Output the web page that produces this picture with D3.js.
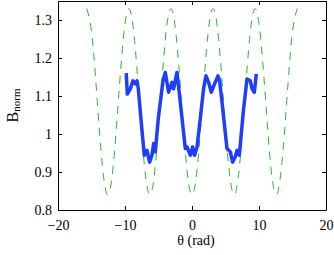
<!DOCTYPE html>
<html>
<head>
    <script src="https://d3js.org/d3.v7.min.js"></script>
    <style>
        body { margin: 0; background: #fff; }
    </style>
</head>
<body>
    <div id="container"></div>
    <script>
        // reference curve (green dashed)
        const refTheta = [-15.71, -14.92, -14.14, -13.35, -12.57, -11.78, -11.00, -10.21,
            -9.42, -8.64, -7.85, -7.07, -6.28, -5.50, -4.71, -3.93, -3.14, -2.36, -1.57, -0.79,
            0, 0.79, 1.57, 2.36, 3.14, 3.93, 4.71, 5.50, 6.28, 7.07, 7.85, 8.64, 9.42, 10.21,
            11.00, 11.78, 12.57, 13.35, 14.14, 14.92, 15.71];
        const refB = [1.33, 1.258, 1.085, 0.912, 0.84, 0.912, 1.085, 1.258,
            1.33, 1.258, 1.085, 0.912, 0.84, 0.912, 1.085, 1.258,
            1.33, 1.258, 1.085, 0.912, 0.84, 0.912, 1.085, 1.258,
            1.33, 1.258, 1.085, 0.912, 0.84, 0.912, 1.085, 1.258,
            1.33, 1.258, 1.085, 0.912, 0.84, 0.912, 1.085, 1.258, 1.33];

        // measured curve (blue)
        const measTheta = [-9.81, -9.66, -9.21, -8.81, -8.46, -8.21, -8.01, -7.57, -7.12, -6.72,
            -6.33, -5.97, -5.73, -5.48, -5.03, -4.33, -3.99, -3.49, -2.99, -2.75, -2.24, -1.75,
            -1.00, -0.75, -0.25, 0.09, 0.39, 0.75, 1.24, 1.73, 2.09, 2.48, 2.88, 3.37, 3.88,
            4.12, 4.48, 5.22, 5.72, 6.06, 6.46, 6.72, 7.06, 7.70, 8.21, 8.70, 8.96, 9.30, 9.60];
        const measB = [1.160, 1.105, 1.119, 1.140, 1.132, 1.140, 1.119, 1.030, 0.944, 0.957,
            0.926, 0.944, 0.975, 0.953, 1.041, 1.140, 1.162, 1.110, 1.136, 1.119, 1.162, 1.084,
            0.962, 0.966, 0.944, 0.966, 0.944, 0.966, 1.041, 1.119, 1.153, 1.136, 1.110, 1.132, 1.153,
            1.140, 1.084, 0.962, 0.953, 0.926, 0.940, 0.957, 0.944, 1.066, 1.145, 1.140, 1.119, 1.110, 1.158];

        const xTicks = [-20, -10, 0, 10, 20];
        const yTicks = [0.8, 0.9, 1, 1.1, 1.2, 1.3];

        const width = 334;
        const height = 255;
        const margin = { top: 1, right: 8, bottom: 45, left: 58 };
        const serif = '"Liberation Serif"';

        const svg = d3.select("#container")
            .append("svg")
            .attr("width", width)
            .attr("height", height);

        const x = d3.scaleLinear().domain([-20, 20]).range([margin.left, width - margin.right]);
        const y = d3.scaleLinear().domain([0.8, 1.35]).range([height - margin.bottom, margin.top]);

        const fmt = d => String(+d.toFixed(2)).replace("-", "\u2212");

        svg.append("g")
            .attr("transform", `translate(0,${height - margin.bottom})`)
            .call(d3.axisBottom(x).tickValues(xTicks).tickSizeInner(-4).tickSizeOuter(0).tickPadding(10).tickFormat(fmt))
            .call(g => g.selectAll("text").attr("fill", "#000").style("font-family", serif).style("font-size", "14px"));

        svg.append("g")
            .attr("transform", `translate(${margin.left},0)`)
            .call(d3.axisLeft(y).tickValues(yTicks).tickSizeInner(-4).tickSizeOuter(0).tickPadding(6).tickFormat(fmt))
            .call(g => g.selectAll("text").attr("fill", "#000").style("font-family", serif).style("font-size", "14px"));

        // top and right box with ticks
        svg.append("g")
            .attr("transform", `translate(0,${margin.top})`)
            .call(d3.axisTop(x).tickValues(xTicks).tickSizeInner(-4).tickSizeOuter(0).tickFormat(""));
        svg.append("g")
            .attr("transform", `translate(${width - margin.right},0)`)
            .call(d3.axisRight(y).tickValues(yTicks).tickSizeInner(-4).tickSizeOuter(0).tickFormat(""));

        svg.selectAll(".domain, .tick line").attr("stroke", "#000");

        const line = d3.line()
            .x(d => x(d[0]))
            .y(d => y(d[1]));

        svg.append("path")
            .datum(d3.zip(refTheta, refB))
            .attr("fill", "none")
            .attr("stroke", "#2db52d")
            .attr("stroke-width", 1)
            .attr("stroke-dasharray", "8,7")
            .attr("d", line.curve(d3.curveNatural));

        svg.append("path")
            .datum(d3.zip(measTheta, measB))
            .attr("fill", "none")
            .attr("stroke", "#1f3dff")
            .attr("stroke-width", 3.5)
            .attr("stroke-linejoin", "round")
            .attr("d", line.curve(d3.curveLinear));

        svg.append("text")
            .attr("x", x(0) + 4)
            .attr("y", 245)
            .attr("text-anchor", "middle")
            .style("font-family", serif)
            .style("font-size", "14px")
            .text("θ (rad)");

        const yl = svg.append("text")
            .attr("transform", `translate(18,${y(1.075)}) rotate(-90)`)
            .attr("text-anchor", "middle")
            .style("font-family", serif)
            .style("font-size", "16px");
        yl.append("tspan").text("B");
        yl.append("tspan").style("font-size", "11px").attr("dy", 2).text("norm");
    </script>
</body>
</html>
